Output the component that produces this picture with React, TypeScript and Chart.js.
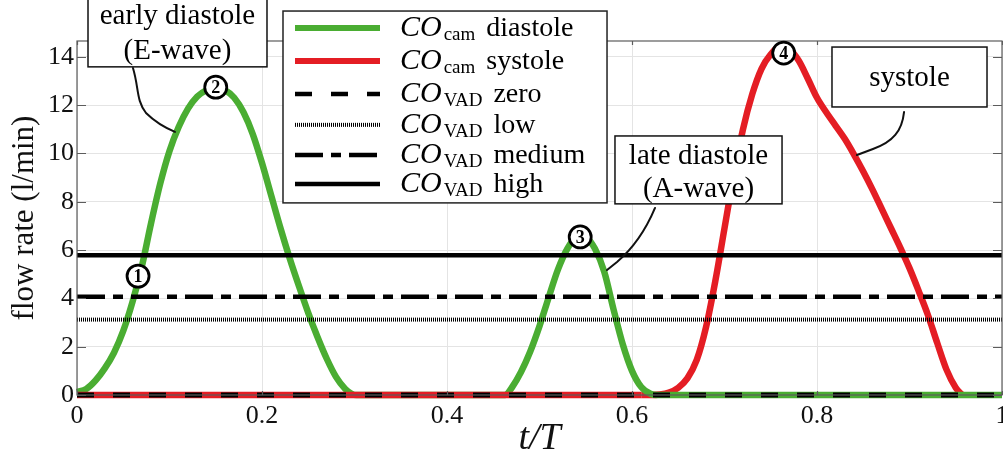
import React, { useEffect, useRef } from 'react';
import { Chart, registerables } from 'chart.js';

Chart.register(...registerables);

// ---------------- data ----------------
const diastoleT = [0, 0.01, 0.02, 0.03, 0.04, 0.05, 0.06, 0.07, 0.08, 0.09, 0.10, 0.11, 0.12, 0.13, 0.14, 0.15, 0.16, 0.17, 0.18, 0.19, 0.20, 0.21, 0.22, 0.23, 0.24, 0.25, 0.26, 0.27, 0.28, 0.29, 0.297, 0.302, 0.38, 0.463, 0.47, 0.48, 0.49, 0.50, 0.51, 0.52, 0.53, 0.54, 0.545, 0.55, 0.56, 0.57, 0.58, 0.59, 0.60, 0.61, 0.62, 0.627, 0.8, 1.0];
const diastoleV = [0.12, 0.25, 0.6, 1.1, 1.75, 2.65, 3.85, 5.3, 7.1, 8.75, 10.1, 11.1, 11.85, 12.35, 12.62, 12.72, 12.62, 12.3, 11.7, 10.8, 9.6, 8.25, 6.9, 5.65, 4.5, 3.4, 2.4, 1.5, 0.75, 0.25, 0.05, 0, 0, 0, 0.3, 0.95, 1.8, 2.85, 4.05, 5.2, 6.05, 6.55, 6.62, 6.55, 6.05, 5.1, 3.55, 2.1, 1.0, 0.33, 0.05, 0, 0, 0];

const systoleT = [0, 0.61, 0.62, 0.63, 0.64, 0.65, 0.66, 0.67, 0.68, 0.69, 0.70, 0.71, 0.72, 0.73, 0.74, 0.75, 0.76, 0.77, 0.78, 0.79, 0.80, 0.81, 0.82, 0.83, 0.84, 0.85, 0.86, 0.87, 0.88, 0.89, 0.90, 0.91, 0.92, 0.93, 0.94, 0.95, 0.957];
const systoleV = [0, 0, 0, 0.02, 0.1, 0.3, 0.7, 1.45, 2.8, 4.7, 6.9, 9.1, 11.0, 12.45, 13.5, 14.1, 14.42, 14.3, 13.85, 13.1, 12.3, 11.7, 11.15, 10.6, 9.95, 9.25, 8.5, 7.7, 6.9, 6.1, 5.25, 4.3, 3.3, 2.15, 1.05, 0.3, 0];

const vadNames = ['zero', 'low', 'medium', 'high'];
const vadLevels = [0, 3.12, 4.07, 5.78];

const xTicks = [0, 0.2, 0.4, 0.6, 0.8, 1];
const yTicks = [0, 2, 4, 6, 8, 10, 12, 14];
const yMax = 14.65;

const markerT = [0.066, 0.150, 0.544, 0.764];
const markerV = [4.92, 12.74, 6.54, 14.15];
const markerLabels = ['1', '2', '3', '4'];

const GREEN = '#4aad32';
const RED = '#e41d24';
const SERIF = '"Liberation Serif", "Times New Roman", serif';

// annotations (in data coordinates)
const annotations = [
  {
    box: [0.0119, 16.43, 0.2054, 13.58],
    lines: ['early diastole', '(E-wave)'],
    lineV: [15.69, 14.28],
    cx: 0.1086,
    pointer: [[0.0605, 13.53], [0.0670, 12.71], [0.0638, 12.21], [0.0746, 11.67], [0.0876, 11.18], [0.1059, 10.89]],
  },
  {
    box: [0.5816, 10.72, 0.7622, 7.91],
    lines: ['late diastole', '(A-wave)'],
    lineV: [9.93, 8.57],
    cx: 0.6719,
    pointer: [[0.6249, 7.74], [0.6162, 6.95], [0.6032, 6.13], [0.5838, 5.50], [0.5730, 5.17], [0.5730, 5.17]],
  },
  {
    box: [0.8162, 14.40, 0.9838, 11.92],
    lines: ['systole'],
    lineV: [13.16],
    cx: 0.9,
    pointer: [[0.8941, 11.71], [0.8919, 10.93], [0.8822, 10.47], [0.8605, 10.18], [0.8432, 9.93], [0.8432, 9.93]],
  },
];

const legendBox = [0.2227, 15.89, 0.5730, 7.95];
const legendRowV = [15.19, 13.82, 12.46, 11.18, 9.93, 8.73];
const legendSampleT = [0.2357, 0.3276];
const legendTextT = 0.3492;

const dashZero = [17, 19];
const dashLow = [1, 1];
const dashMedium = [28, 8, 10, 8];

const legendRows = [
  { color: GREEN, dash: [] as number[], width: 6, sub: 'cam', word: 'diastole' },
  { color: RED, dash: [] as number[], width: 6, sub: 'cam', word: 'systole' },
  { color: '#000', dash: dashZero, width: 4.5, sub: 'VAD', word: vadNames[0] },
  { color: '#000', dash: dashLow, width: 4, sub: 'VAD', word: vadNames[1] },
  { color: '#000', dash: dashMedium, width: 4.5, sub: 'VAD', word: vadNames[2] },
  { color: '#000', dash: [] as number[], width: 4.5, sub: 'VAD', word: vadNames[3] },
];

const pts = (ts: number[], vs: number[]) => ts.map((t, i) => ({ x: t, y: vs[i] }));

const overlayPlugin = {
  id: 'overlay',
  afterDatasetsDraw(chart: any) {
    const ctx: CanvasRenderingContext2D = chart.ctx;
    const xs = chart.scales.x;
    const ys = chart.scales.y;
    const px = (t: number) => xs.getPixelForValue(t);
    const py = (v: number) => ys.getPixelForValue(v);
    const { left, right, top, bottom } = chart.chartArea;

    ctx.save();
    ctx.strokeStyle = '#5c5c5c';
    ctx.lineWidth = 1.2;
    ctx.setLineDash([]);
    ctx.strokeRect(left, top, right - left, bottom - top);
    ctx.beginPath();
    yTicks.forEach((v) => {
      const y = Math.round(py(v)) + 0.5;
      ctx.moveTo(left, y); ctx.lineTo(left + 9, y);
      ctx.moveTo(right, y); ctx.lineTo(right - 9, y);
    });
    xTicks.forEach((t) => {
      const x = Math.round(px(t)) + 0.5;
      ctx.moveTo(x, bottom); ctx.lineTo(x, bottom - 4);
      ctx.moveTo(x, top); ctx.lineTo(x, top + 4);
    });
    ctx.stroke();

    markerT.forEach((t, i) => {
      const x = px(t), y = py(markerV[i]);
      ctx.beginPath();
      ctx.arc(x, y, 11, 0, Math.PI * 2);
      ctx.fillStyle = '#fff';
      ctx.fill();
      ctx.lineWidth = 2.8;
      ctx.strokeStyle = '#000';
      ctx.stroke();
      ctx.fillStyle = '#000';
      ctx.font = `bold 18px ${SERIF}`;
      ctx.textAlign = 'center';
      ctx.textBaseline = 'middle';
      ctx.fillText(markerLabels[i], x, y + 1);
    });

    annotations.forEach((a) => {
      const [t1, v1, t2, v2] = a.box;
      const x1 = px(t1), y1 = py(v1), x2 = px(t2), y2 = py(v2);
      ctx.fillStyle = '#fff';
      ctx.fillRect(x1, y1, x2 - x1, y2 - y1);
      ctx.lineWidth = 1.5;
      ctx.strokeStyle = '#111';
      ctx.strokeRect(x1, y1, x2 - x1, y2 - y1);
      ctx.fillStyle = '#000';
      ctx.font = `29px ${SERIF}`;
      ctx.textAlign = 'center';
      ctx.textBaseline = 'middle';
      a.lines.forEach((s, i) => ctx.fillText(s, px(a.cx), py(a.lineV[i]) + 1));
      const p = a.pointer.map(([t, v]) => [px(t), py(v)]);
      ctx.beginPath();
      ctx.moveTo(p[0][0], p[0][1]);
      ctx.bezierCurveTo(p[1][0], p[1][1], p[2][0], p[2][1], p[3][0], p[3][1]);
      ctx.quadraticCurveTo(p[4][0], p[4][1], p[5][0], p[5][1]);
      ctx.lineWidth = 2;
      ctx.lineCap = 'round';
      ctx.stroke();
    });

    {
      const [t1, v1, t2, v2] = legendBox;
      const x1 = px(t1), y1 = py(v1), x2 = px(t2), y2 = py(v2);
      ctx.fillStyle = '#fff';
      ctx.fillRect(x1, y1, x2 - x1, y2 - y1);
      ctx.lineWidth = 1.5;
      ctx.strokeStyle = '#222';
      ctx.strokeRect(x1, y1, x2 - x1, y2 - y1);
      legendRows.forEach((r, i) => {
        const y = py(legendRowV[i]);
        ctx.beginPath();
        ctx.setLineDash(r.dash);
        ctx.lineDashOffset = 0;
        ctx.lineCap = 'butt';
        ctx.strokeStyle = r.color;
        ctx.lineWidth = r.width;
        ctx.moveTo(Math.round(px(legendSampleT[0])), y);
        ctx.lineTo(Math.round(px(legendSampleT[1])), y);
        ctx.stroke();
        ctx.setLineDash([]);
        const base = y + 8;
        let x = px(legendTextT);
        ctx.fillStyle = '#000';
        ctx.textAlign = 'left';
        ctx.textBaseline = 'alphabetic';
        ctx.font = `italic 30px ${SERIF}`;
        ctx.fillText('CO', x, base);
        x += ctx.measureText('CO').width + 2;
        ctx.font = `19px ${SERIF}`;
        ctx.fillText(r.sub, x, base + 4);
        x += ctx.measureText(r.sub).width + 11;
        ctx.font = `28px ${SERIF}`;
        ctx.fillText(r.word, x, base);
      });
    }
    ctx.restore();
  },
};

export default function App() {
  const ref = useRef<HTMLCanvasElement>(null);
  useEffect(() => {
    if (!ref.current) return;
    Chart.defaults.font.family = SERIF;
    const lineDs = (label: string, data: any[], color: string, width: number, dash: number[], order: number) => ({
      label, data, borderColor: color, backgroundColor: color, borderWidth: width, borderDash: dash, order,
      pointRadius: 0, fill: false, clip: false as const, tension: 0, borderCapStyle: 'butt' as const,
    });
    const curveDs = (label: string, data: any[], color: string, order: number) => ({
      ...lineDs(label, data, color, 6.5, [], order), cubicInterpolationMode: 'monotone' as const,
    });
    const sysZeroIdx = systoleT.filter((t) => t <= 0.61).length;
    const vadDash = [dashZero, dashLow, dashMedium, [] as number[]];
    const vadWidth = [5, 4, 4.5, 4.5];
    const vadOrder = [-10, -7, -8, -9]; // lower order is drawn on top
    const vadDs = vadLevels.map((lv, i) => lineDs('VAD ' + vadNames[i], [{ x: 0, y: lv }, { x: 1, y: lv }], '#000', vadWidth[i], vadDash[i], vadOrder[i]));
    const datasets: any[] = [
      ...vadDs,
      curveDs('systole zero', pts(systoleT.slice(0, sysZeroIdx), systoleV.slice(0, sysZeroIdx)), RED, 1),
      curveDs('diastole', pts(diastoleT, diastoleV), GREEN, 2),
      curveDs('systole', pts(systoleT.slice(sysZeroIdx - 1), systoleV.slice(sysZeroIdx - 1)), RED, 3),
    ];
    const chart = new Chart(ref.current, {
      type: 'line',
      data: { datasets },
      options: {
        animation: false,
        responsive: false,
        maintainAspectRatio: false,
        layout: { padding: { left: 0, right: 1, top: 41, bottom: 0 }, autoPadding: false },
        plugins: { legend: { display: false }, tooltip: { enabled: false } },
        scales: {
          x: {
            type: 'linear', min: 0, max: 1,
            afterBuildTicks: (s: any) => { s.ticks = xTicks.map((v) => ({ value: v })); },
            afterFit: (s: any) => { s.height = 76; s.paddingLeft = 0; s.paddingRight = 0; },
            grid: { color: '#e4e4e4', lineWidth: 1, drawTicks: false },
            border: { display: false },
            ticks: { font: { size: 26 }, color: '#111', padding: 6, autoSkip: false, maxRotation: 0, callback: (v: any) => String(v) },
            title: { display: true, text: 't/T', font: { size: 38, style: 'italic' }, color: '#111', padding: { top: 0, bottom: 9 } },
          },
          y: {
            type: 'linear', min: 0, max: yMax,
            afterBuildTicks: (s: any) => { s.ticks = yTicks.map((v) => ({ value: v })); },
            afterFit: (s: any) => { s.width = 77; s.paddingTop = 0; s.paddingBottom = 0; },
            grid: { color: '#e4e4e4', lineWidth: 1, drawTicks: false },
            border: { display: false },
            ticks: { font: { size: 26 }, color: '#111', padding: 3, autoSkip: false, callback: (v: any) => String(v) },
            title: { display: true, text: 'flow rate (l/min)', font: { size: 31 }, color: '#111', padding: { top: 6, bottom: 0 } },
          },
        },
      },
      plugins: [overlayPlugin],
    });
    return () => chart.destroy();
  }, []);
  return (
    <div style={{ position: 'absolute', left: 0, top: 0, width: 1003, height: 471, background: '#fff' }}>
      <canvas ref={ref} width={1003} height={471} style={{ display: 'block' }} />
    </div>
  );
}
